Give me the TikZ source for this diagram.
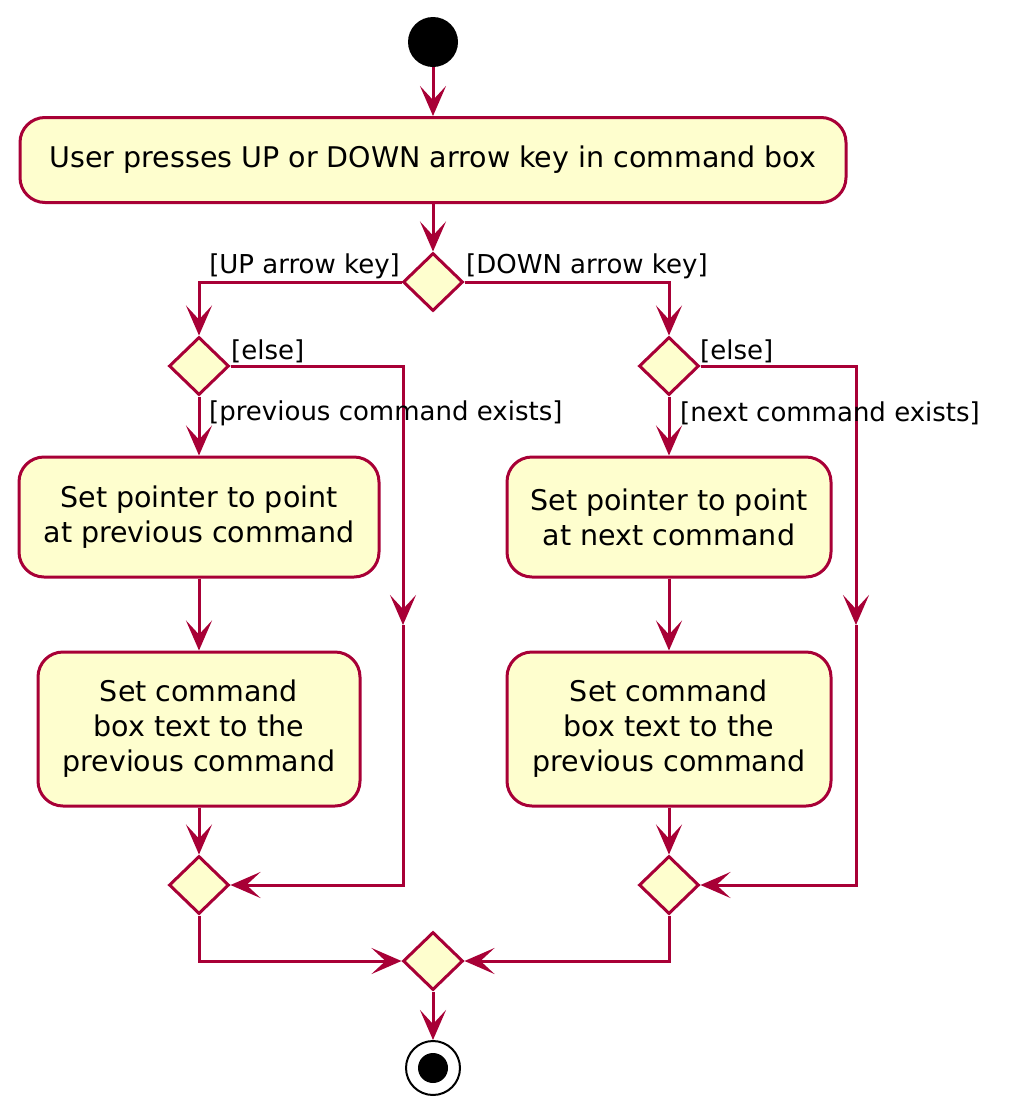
\documentclass[tikz,border=0pt]{standalone}
\usepackage{fontspec}
\setmainfont{DejaVu Sans}
\usetikzlibrary{shapes.geometric,arrows.meta}
\definecolor{umlred}{HTML}{A80036}
\definecolor{umlfill}{HTML}{FEFECE}
\tikzset{
  actbox/.style={draw=umlred, fill=umlfill, line width=3pt, rounded corners=25pt, align=center, font=\fontsize{28.5}{35}\selectfont, inner sep=0pt},
  dia/.style={draw=umlred, fill=umlfill, line width=3pt, diamond, aspect=1, minimum width=60pt, minimum height=58pt, inner sep=0pt},
  flow/.style={draw=umlred, line width=3pt},
  arr/.style={flow, -{Stealth[length=30pt, width=26pt, inset=14pt]}},
  lbl/.style={font=\fontsize{26}{30}\selectfont, inner sep=1pt}
}
\begin{document}
\begin{tikzpicture}[x=1pt,y=-1pt]
\useasboundingbox (0,0) rectangle (1010,1114);
\node[circle, fill=black, minimum size=50pt, inner sep=0pt] (start) at (433,42) {};
\node[actbox, minimum width=826pt, minimum height=85pt] (b1) at (433,160) {User presses UP or DOWN arrow key in command box};
\node[dia] (d1) at (433,282) {};
\node[dia] (d2) at (199,366) {};
\node[dia] (d3) at (669,366) {};
\node[actbox, minimum width=360pt, minimum height=120pt] (b2) at (199,517) {Set pointer to point\\at previous command};
\node[actbox, minimum width=324pt, minimum height=120pt] (b4) at (669,517) {Set pointer to point\\at next command};
\node[actbox, minimum width=322pt, minimum height=154pt] (b3) at (199,729) {Set command\\box text to the\\previous command};
\node[actbox, minimum width=324pt, minimum height=154pt] (b5) at (669,729) {Set command\\box text to the\\previous command};
\node[dia] (d4) at (199,885) {};
\node[dia] (d5) at (669,885) {};
\node[dia] (d6) at (433,961) {};
\node[circle, draw=black, line width=2pt, fill=white, minimum size=54pt, inner sep=0pt] (end) at (433,1068) {};
\node[circle, fill=black, minimum size=30pt, inner sep=0pt] (endin) at (433,1068) {};
\coordinate (eL) at (403,625);
\coordinate (eR) at (856,625);

\draw[arr] (start) -- (b1);
\draw[arr] (b1) -- (d1);
\draw[arr] (d1.west) -| (d2.north);
\draw[arr] (d1.east) -| (d3.north);
\draw[arr] (d2.south) -- (b2.north);
\draw[arr] (d3.south) -- (b4.north);
\draw[arr] (b2) -- (b3);
\draw[arr] (b4) -- (b5);
\draw[arr] (b3) -- (d4);
\draw[arr] (b5) -- (d5);
\draw[arr] (d2.east) -| (eL);
\draw[arr] (eL) |- (d4.east);
\draw[arr] (d3.east) -| (eR);
\draw[arr] (eR) |- (d5.east);
\draw[arr] (d4.south) |- (d6.west);
\draw[arr] (d5.south) |- (d6.east);
\draw[arr] (d6.south) -- (end.north);

\node[lbl, anchor=south east] (lup) at (401,280) {[UP arrow key]};
\node[lbl, anchor=south west] (ldown) at (465,280) {[DOWN arrow key]};
\node[lbl, anchor=south west] (le1) at (230,364) {[else]};
\node[lbl, anchor=south west] (le2) at (699,364) {[else]};
\node[lbl, anchor=west] (lprev) at (208,413) {[previous command exists]};
\node[lbl, anchor=west] (lnext) at (679,413) {[next command exists]};
\end{tikzpicture}
\end{document}
